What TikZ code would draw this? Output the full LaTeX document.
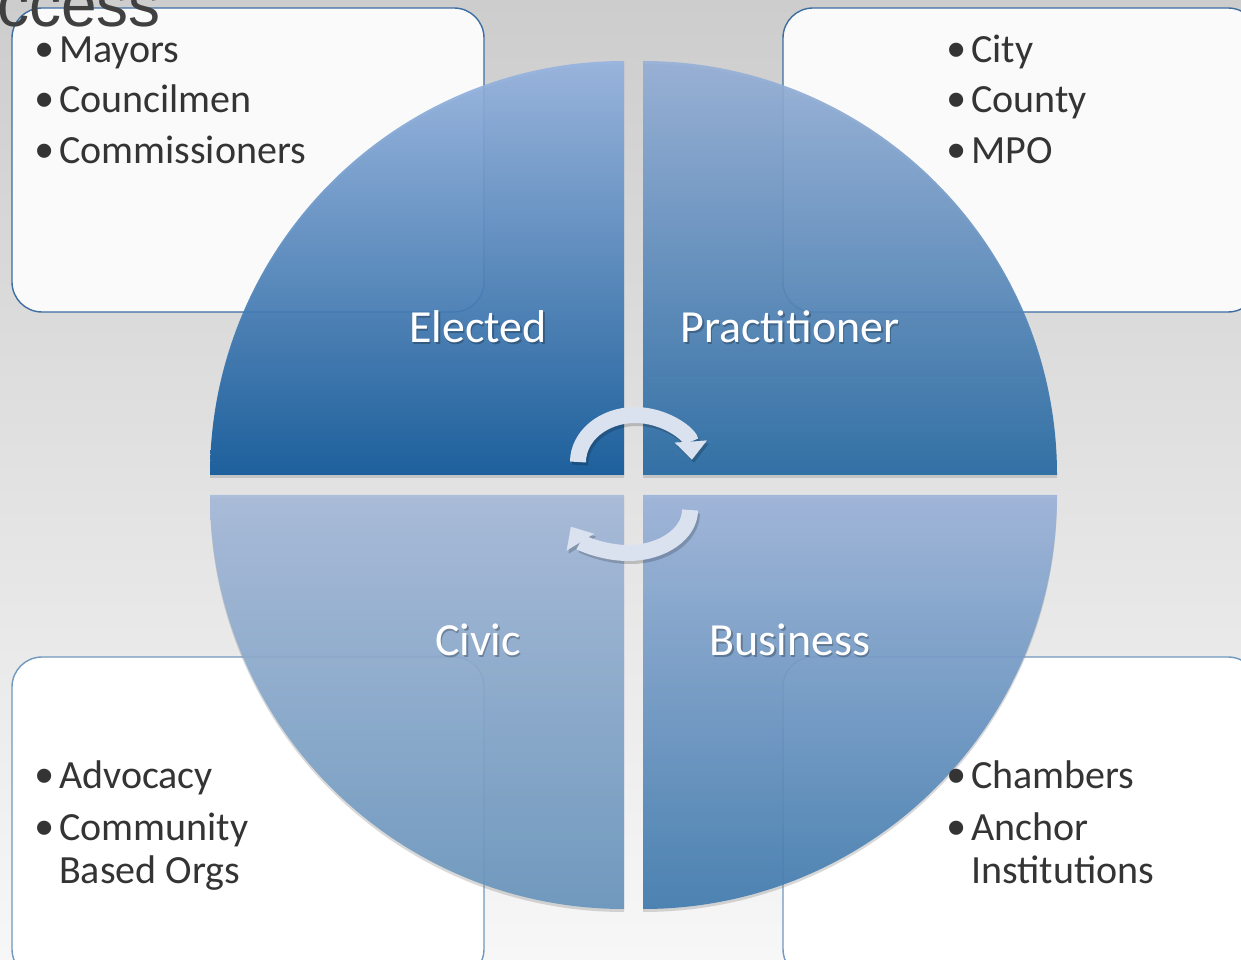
\documentclass[tikz,border=0pt]{standalone}
\usepackage{fontspec}
\setmainfont{Carlito}
\newfontfamily\bulfont{Liberation Sans}
\newfontfamily\headfont{Liberation Sans}
\usetikzlibrary{arrows.meta, shadows, positioning}

\definecolor{bgtop}{RGB}{205,205,205}
\definecolor{bgmid}{RGB}{233,233,233}
\definecolor{bgbot}{RGB}{247,247,247}
\definecolor{txt}{RGB}{52,52,52}
\definecolor{edgetop}{RGB}{60,110,162}
\definecolor{edgebot}{RGB}{112,152,192}
\definecolor{arrowc}{RGB}{218,226,240}
% quadrant colours, top and bottom of each shading
\definecolor{elA}{RGB}{150,180,224}
\definecolor{elB}{RGB}{12,86,152}
\definecolor{prA}{RGB}{150,176,216}
\definecolor{prB}{RGB}{36,104,162}
\definecolor{ciA}{RGB}{166,186,218}
\definecolor{ciB}{RGB}{102,148,188}
\definecolor{buA}{RGB}{156,180,218}
\definecolor{buB}{RGB}{62,122,174}

\newcommand\bulletmark{\makebox[24pt][l]{\raisebox{-5pt}{\scalebox{1.3}{\bulfont\textbullet}}}}

\begin{document}
\begin{tikzpicture}[x=1pt, y=1pt,
    box/.style={rounded corners=30pt, line width=1.4pt},
    quad/.style={fill opacity=0.9, drop shadow={opacity=0.3, shadow xshift=0pt, shadow yshift=-3pt}},
    item/.style={anchor=base west, inner sep=0pt, text=txt, font=\fontsize{40}{44}\selectfont},
    part/.style={anchor=base, inner sep=0pt, text=white, font=\fontsize{46}{50}\selectfont},
    partshadow/.style={part, text=black, text opacity=0.25},
    turn/.style={line width=16pt, draw=arrowc, -{Triangle[width=32pt, length=18pt, line width=0.1pt]}},
    turnshadow/.style={turn, draw=black, opacity=0.18}]
    \useasboundingbox (0,0) rectangle (1241,959);
    \clip (0,0) rectangle (1241,959);
    \shade[top color=bgtop, middle color=bgmid, bottom color=bgbot] (0,0) rectangle (1241,959);

    % corner boxes
    \draw[box, draw=edgetop, fill=white!98!black] (12,951) rectangle (484,647);
    \draw[box, draw=edgetop, fill=white!98!black] (783,951) rectangle (1258,647);
    \draw[box, draw=edgebot, fill=white] (12,302) rectangle (484,-20);
    \draw[box, draw=edgebot, fill=white] (783,302) rectangle (1258,-20);

    % the four quarters of the circle
    \shade[quad, top color=elA, bottom color=elB] (624,484) -- (210,484) arc[start angle=180, end angle=90, radius=414] -- cycle;
    \shade[quad, top color=prA, bottom color=prB] (643,484) -- (1057,484) arc[start angle=0, end angle=90, radius=414] -- cycle;
    \shade[quad, top color=ciA, bottom color=ciB] (624,464) -- (210,464) arc[start angle=180, end angle=270, radius=414] -- cycle;
    \shade[quad, top color=buA, bottom color=buB] (643,464) -- (1057,464) arc[start angle=0, end angle=-90, radius=414] -- cycle;

    % turning arrows in the middle
    \draw[turnshadow, shift={(2,-3)}] (578,497) arc[start angle=180, end angle=3, x radius=57, y radius=47];
    \draw[turn] (578,497) arc[start angle=180, end angle=3, x radius=57, y radius=47];
    \draw[turnshadow, shift={(2,-3)}] (690,449) arc[start angle=0, end angle=-157, x radius=62, y radius=43];
    \draw[turn] (690,449) arc[start angle=0, end angle=-157, x radius=62, y radius=43];

    % quarter names, each with a soft shadow
    \foreach \t/\x/\y [count=\i] in {Elected/478/616, Practitioner/790/616, Civic/478/304, Business/790/304}
        \node[partshadow] (ps\i) at (\x+1.5,\y-2) {\t};
    \node[part] (el) at (478,616) {Elected};
    \node[part] (pr) at (790,616) {Practitioner};
    \node[part] (ci) at (478,304) {Civic};
    \node[part] (bu) at (790,304) {Business};

    % lists
    \foreach \t [count=\i] in {Mayors, Councilmen, Commissioners}
        \node[item] (el\i) at (35,947-50.5*\i) {\bulletmark\t};
    \foreach \t [count=\i] in {City, County, MPO}
        \node[item] (pr\i) at (947,947-50.5*\i) {\bulletmark\t};
    \node[item] (ci1) at (35,171) {\bulletmark Advocacy};
    \node[item] (ci2) at (35,119) {\bulletmark Community};
    \node[item] (ci3) at (59,76) {Based Orgs};
    \node[item] (bu1) at (947,171) {\bulletmark Chambers};
    \node[item] (bu2) at (947,119) {\bulletmark Anchor};
    \node[item] (bu3) at (971,76) {Institutions};

    \node[anchor=base west, inner sep=0pt, text=black!75, font=\headfont\fontsize{64}{64}\selectfont] (head) at (-3,932) {ccess};
\end{tikzpicture}
\end{document}
